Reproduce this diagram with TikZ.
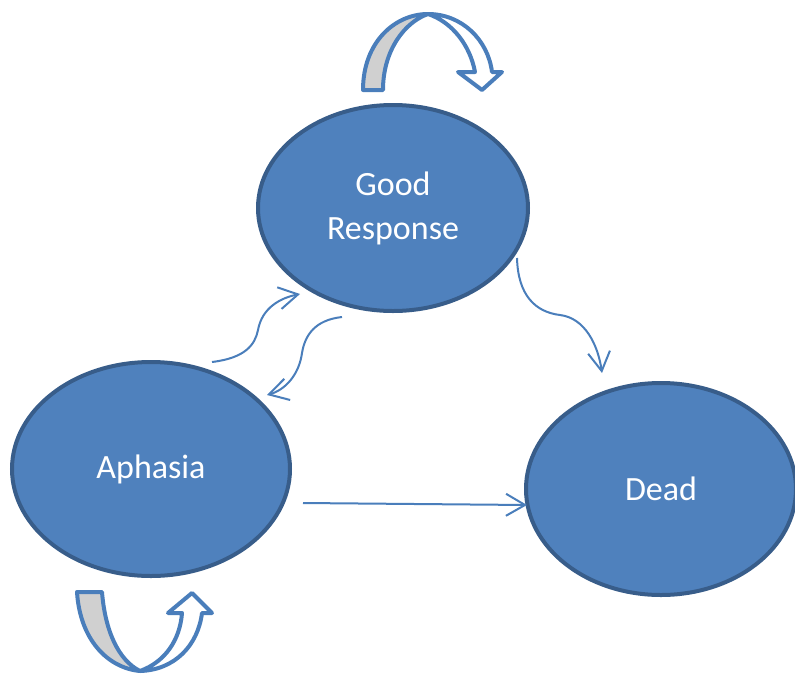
\documentclass[tikz,border=0pt]{standalone}
\usepackage{fontspec}
\setmainfont{Carlito}
\usetikzlibrary{shapes.geometric,arrows.meta}
\definecolor{fillblue}{HTML}{4F81BD}
\definecolor{edgeblue}{HTML}{385D8A}
\definecolor{lineblue}{HTML}{4A7EBB}
\definecolor{backgray}{HTML}{D0D0D0}
\begin{document}
\begin{tikzpicture}[x=1pt,y=-1pt,
  state/.style={ellipse,draw=edgeblue,fill=fillblue,line width=4pt,text=white,
    font=\fontsize{34}{44}\selectfont,align=center,inner sep=0pt},
  link/.style={draw=lineblue,line width=2pt,
    -{Straight Barb[length=19pt,width=22pt,line width=2pt]}},
  band/.style={draw=lineblue,line width=4pt,line join=round}]
\useasboundingbox (0,0) rectangle (795,675);

% states
\node[state,minimum width=270pt,minimum height=206pt] (gr) at (393,208) {Good\\Response};
\node[state,minimum width=278pt,minimum height=214pt] (aph) at (151,469) {Aphasia};
\node[state,minimum width=270pt,minimum height=212pt] (dead) at (661,489) {Dead};

% connector end points
\coordinate (a1s) at (212,362);
\coordinate (a1m) at (258,330);
\coordinate (a1e) at (300,294);
\coordinate (a2s) at (342,317);
\coordinate (a2m) at (302,353);
\coordinate (a2e) at (267,395);
\coordinate (a3s) at (517,258);
\coordinate (a3m) at (560,315);
\coordinate (a3e) at (602,373);
\coordinate (a4s) at (303,503);
\coordinate (a4e) at (527,505);

\draw[link] (a1s) .. controls (245,358) and (255,345) .. (a1m)
  .. controls (262,308) and (280,298) .. (a1e);
\draw[link] (a2s) .. controls (315,320) and (305,335) .. (a2m)
  .. controls (299,375) and (285,390) .. (a2e);
\draw[link] (a3s) .. controls (518,295) and (535,312) .. (a3m)
  .. controls (585,318) and (598,345) .. (a3e);
\draw[link] (a4s) -- (a4e);

% self loop on Good Response (curved down arrow)
\draw[band,fill=backgray] (363,90) .. controls (363,42) and (395,14) .. (428,14)
  .. controls (405,22) and (383,50) .. (383,90) -- cycle;
\draw[band,fill=white] (428,14) .. controls (462,14) and (488,40) .. (492,72)
  -- (502,72) -- (482,90) -- (458,72) -- (475,72)
  .. controls (470,45) and (452,22) .. (428,14) -- cycle;

% self loop on Aphasia (curved up arrow)
\draw[band,fill=backgray] (77,592) -- (102,592)
  .. controls (105,630) and (118,660) .. (140,671)
  .. controls (108,668) and (80,640) .. (77,592) -- cycle;
\draw[band,fill=white] (140,671) .. controls (165,662) and (180,640) .. (182,613)
  -- (168,613) -- (192,593) -- (212,613) -- (202,613)
  .. controls (198,645) and (175,670) .. (140,671) -- cycle;
\end{tikzpicture}
\end{document}
